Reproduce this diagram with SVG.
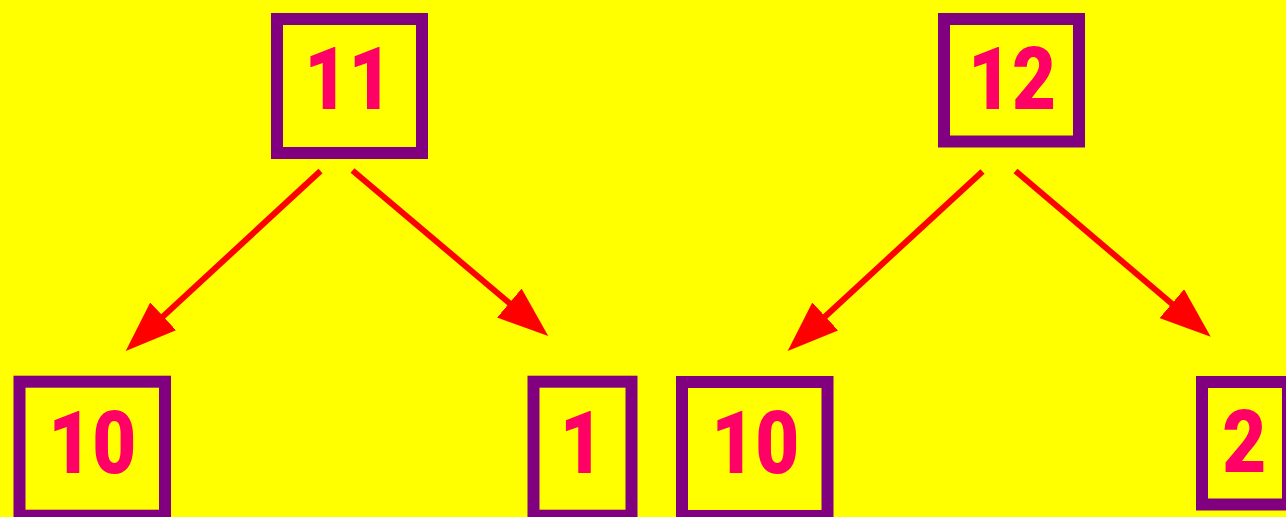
<svg xmlns="http://www.w3.org/2000/svg" width="1286" height="517" viewBox="0 0 1286 517">
<style>
.box{fill:none;stroke:#800080;stroke-width:12}
.lbl{font-family:Roboto,"Liberation Sans",Arial,sans-serif;font-weight:900;font-size:76px;fill:#FF0066;text-anchor:middle}
.edge{stroke:#FF0000;stroke-width:6;fill:none}
</style>
<defs>
<marker id="ah" markerUnits="userSpaceOnUse" viewBox="0 0 51 38" markerWidth="51" markerHeight="38" refX="31" refY="19" orient="auto">
<path d="M0,0 L51,19 L0,38 Z" fill="#FF0000"/>
</marker>
</defs>
<rect width="1286" height="517" fill="#FFFF00"/>
<g id="connectors">
<line class="edge" x1="320.5" y1="171" x2="140.4" y2="337.4" marker-end="url(#ah)"/>
<line class="edge" x1="352.5" y1="170.5" x2="533" y2="323.1" marker-end="url(#ah)"/>
<line class="edge" x1="982.5" y1="171.5" x2="802.4" y2="337.45" marker-end="url(#ah)"/>
<line class="edge" x1="1015.5" y1="171" x2="1195.45" y2="323.75" marker-end="url(#ah)"/>
</g>
<g id="n11"><rect class="box" x="277" y="19" width="145" height="134"/><text class="lbl" transform="translate(348.4,109.3) scale(1,1.15)">11</text></g>
<g id="n12"><rect class="box" x="944" y="19" width="135" height="122.5"/><text class="lbl" transform="translate(1012,109.3) scale(1,1.15)">12</text></g>
<g id="n10a"><rect class="box" x="19.5" y="381.7" width="145.5" height="134"/><text class="lbl" transform="translate(92.3,472.7) scale(1,1.15)">10</text></g>
<g id="n1"><rect class="box" x="533.5" y="381.7" width="98" height="134"/><text class="lbl" transform="translate(581.8,472.7) scale(1,1.15)">1</text></g>
<g id="n10b"><rect class="box" x="682" y="382" width="145.5" height="134"/><text class="lbl" transform="translate(755.3,472.7) scale(1,1.15)">10</text></g>
<g id="n2"><rect class="box" x="1202" y="382" width="86" height="122.5"/><text class="lbl" transform="translate(1244.2,471.7) scale(1,1.15)">2</text></g>
</svg>
